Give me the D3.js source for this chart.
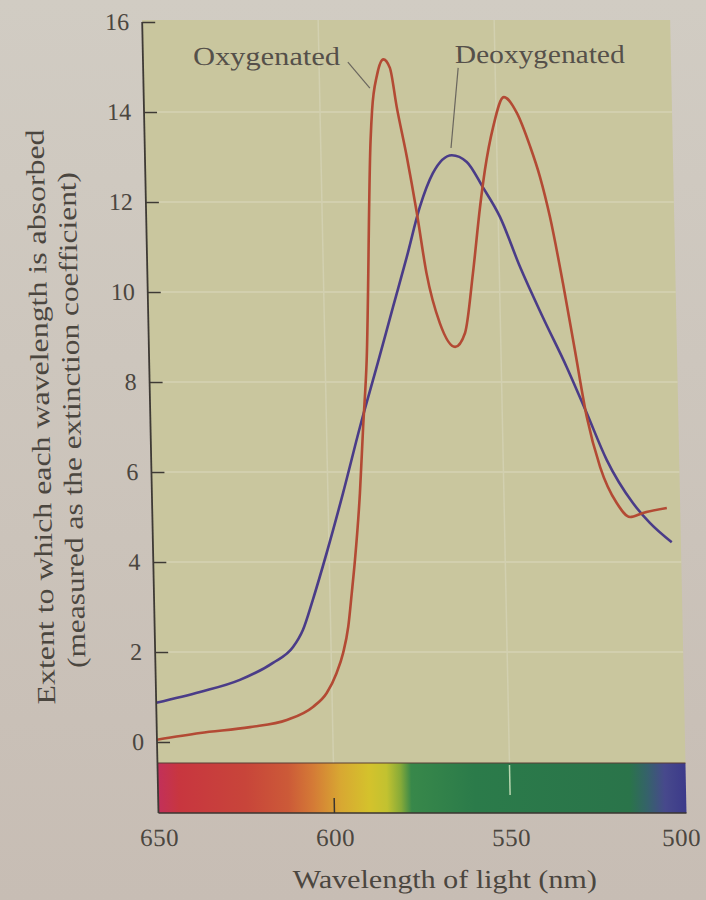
<!DOCTYPE html>
<html>
<head>
<meta charset="utf-8">
<script src="https://cdn.jsdelivr.net/npm/d3@7"></script>
<style>
  html, body { margin: 0; padding: 0; background: #cdc6bc; }
  svg { display: block; }
</style>
</head>
<body>
<div id="chart"></div>
<script>
// ===== DATA =====
const oxyNm  = [650, 637.7, 623.5, 613.0, 605.5, 601.5, 598.6, 596.6, 595.0, 593.8, 592.7, 590.9, 589.6, 588.2,
                585.8, 585.2, 583.6, 581.7, 579.9, 578.2, 575.6, 573.1, 570.7, 567.2, 563.0, 560.1, 557.5, 555.1,
                553.5, 550.9, 547.7, 544.1, 540.5, 537.9, 535.3, 532.0, 529.0, 526.0, 522.5, 518.0, 514.3, 510.6, 503.8];
const oxyVal = [0.05, 0.2, 0.33, 0.49, 0.78, 1.09, 1.53, 1.98, 2.56, 3.31, 4.04, 5.53, 7.0, 8.49,
                13.38, 14.04, 14.82, 15.17, 14.98, 14.12, 13.0, 11.76, 10.42, 9.31, 8.78, 9.09, 10.42, 11.89,
                12.71, 13.67, 14.33, 13.98, 13.23, 12.56, 11.67, 10.2, 8.71, 7.22, 6.11, 5.31, 5.0, 5.09, 5.2];

const deoxyNm  = [650, 637.5, 626.1, 616.6, 610.8, 607.9, 604.9, 600.7, 595.7, 590.5, 585.0, 580.4, 576.2, 572.2,
                  568.3, 562.8, 558.6, 554.2, 549.5, 544.1, 537.9, 531.4, 526.0, 520.6, 513.4, 508.7, 502.6];
const deoxyVal = [0.87, 1.11, 1.38, 1.76, 2.11, 2.49, 3.16, 4.2, 5.53, 7.0, 8.44, 9.67, 10.78, 11.89,
                  12.64, 13.04, 12.89, 12.33, 11.67, 10.56, 9.44, 8.33, 7.31, 6.27, 5.31, 4.87, 4.44];

const yTicks = [0, 2, 4, 6, 8, 10, 12, 14, 16];
const yGrid  = [2, 4, 6, 8, 10, 12, 14];
const xTicks = [650, 600, 550, 500];
const xGrid  = [600, 550];

// visible spectrum under the axis
const spectrumNm     = [650, 644, 625, 613, 606, 598, 590, 585, 581, 578, 560, 516, 511, 506, 500];
const spectrumColors = ["#c2305a", "#c8363f", "#c8453a", "#cc5a38", "#d47a36", "#d8a832", "#d4c22c", "#c2c230",
                        "#86aa38", "#38884a", "#2b7b4a", "#2a744a", "#35626a", "#47498c", "#3c3a8a"];

// curve labels: text anchor point and leader line (nm, value)
const labelText   = ["Oxygenated", "Deoxygenated"];
const labelPos    = [[594.0, 15.04], [561.4, 15.09]];
const labelAnchor = ["end", "start"];
const labelWidth  = [147, 170];
const leaderFrom  = [[591.8, 15.11], [560.5, 14.98]];
const leaderTo    = [[585.7, 14.53], [563.0, 13.2]];

// ===== SETUP =====
const W = 706, H = 900;
const skewK = 0.0206, pivotY = 790;   // the photo is slightly slanted
const barTop = 763, barBottom = 813;
const serif = "'Liberation Serif', 'Times New Roman', serif";
const ink = "#4b463f";

const svg = d3.select("#chart").append("svg")
  .attr("width", W)
  .attr("height", H);

const defs = svg.append("defs");
const paper = defs.append("linearGradient").attr("id", "paper")
  .attr("x1", 0).attr("y1", 0).attr("x2", 0).attr("y2", 1);
paper.append("stop").attr("offset", "0%").attr("stop-color", "#d1ccc3");
paper.append("stop").attr("offset", "100%").attr("stop-color", "#c7bdb4");

svg.append("rect").attr("width", W).attr("height", H).attr("fill", "url(#paper)");

const x = d3.scaleLinear().domain([650, 500]).range([158, 686]);
const y = d3.scaleLinear().domain([0, 16]).range([742, 22]);

const g = svg.append("g")
  .attr("transform", `translate(${-skewK * pivotY},0) skewX(${Math.atan(skewK) * 180 / Math.PI})`);

// panel
g.append("rect")
  .attr("x", x(650))
  .attr("y", 20)
  .attr("width", x(500) - x(650))
  .attr("height", barTop - 20)
  .attr("fill", "#c9c69e");

// faint grid
g.selectAll(".hgrid")
  .data(yGrid)
  .enter()
  .append("line")
  .attr("x1", x(650)).attr("x2", x(500))
  .attr("y1", d => y(d)).attr("y2", d => y(d))
  .attr("stroke", "#d4d2b3")
  .attr("stroke-width", 1.5);

g.selectAll(".vgrid")
  .data(xGrid)
  .enter()
  .append("line")
  .attr("x1", d => x(d)).attr("x2", d => x(d))
  .attr("y1", 20).attr("y2", barTop)
  .attr("stroke", "#d2d0b0")
  .attr("stroke-width", 1.5);

// spectrum bar
const spec = defs.append("linearGradient").attr("id", "spectrum")
  .attr("gradientUnits", "userSpaceOnUse")
  .attr("x1", x(650)).attr("x2", x(500))
  .attr("y1", 0).attr("y2", 0);
spectrumNm.forEach((nm, i) => {
  spec.append("stop")
    .attr("offset", (650 - nm) / 150)
    .attr("stop-color", spectrumColors[i]);
});

g.append("rect")
  .attr("x", x(650))
  .attr("y", barTop)
  .attr("width", x(500) - x(650))
  .attr("height", barBottom - barTop)
  .attr("fill", "url(#spectrum)");

g.append("line")
  .attr("x1", x(650)).attr("x2", x(500))
  .attr("y1", barTop).attr("y2", barTop)
  .attr("stroke", "#5a3d35").attr("stroke-width", 1);
g.append("line")
  .attr("x1", x(650)).attr("x2", x(500))
  .attr("y1", barBottom).attr("y2", barBottom)
  .attr("stroke", "#3a3530").attr("stroke-width", 1.5);

// ticks inside the spectrum bar
g.append("line")
  .attr("x1", x(600)).attr("x2", x(600))
  .attr("y1", barBottom).attr("y2", barBottom - 15)
  .attr("stroke", "#3a3530").attr("stroke-width", 1.5);
g.append("line")
  .attr("x1", x(550)).attr("x2", x(550))
  .attr("y1", barTop + 2).attr("y2", barTop + 32)
  .attr("stroke", "#b9d6b0").attr("stroke-width", 1.5);

// curves
const line = d3.line()
  .x(d => x(d[0]))
  .y(d => y(d[1]))
  .curve(d3.curveMonotoneX);

g.append("path")
  .datum(deoxyNm.map((nm, i) => [nm, deoxyVal[i]]))
  .attr("d", line)
  .attr("fill", "none")
  .attr("stroke", "#4a3c88")
  .attr("stroke-width", 2.6);

g.append("path")
  .datum(oxyNm.map((nm, i) => [nm, oxyVal[i]]))
  .attr("d", line)
  .attr("fill", "none")
  .attr("stroke", "#b34a34")
  .attr("stroke-width", 2.6);

// y axis
const yAxis = g.append("g")
  .attr("transform", `translate(${x(650)},0)`)
  .call(d3.axisLeft(y).tickValues(yTicks).tickSize(-13).tickPadding(13));
yAxis.select(".domain").remove();
yAxis.selectAll(".tick line").attr("stroke", "#3e3a35").attr("stroke-width", 1.6);
yAxis.selectAll(".tick text")
  .attr("fill", ink)
  .style("font-family", serif)
  .style("font-size", "24px");

g.append("line")
  .attr("x1", x(650)).attr("x2", x(650))
  .attr("y1", y(16)).attr("y2", barBottom)
  .attr("stroke", "#3e3a35")
  .attr("stroke-width", 1.8);

// x axis labels
const xAxis = g.append("g")
  .attr("transform", `translate(0,${barBottom})`)
  .call(d3.axisBottom(x).tickValues(xTicks).tickSize(0).tickPadding(15));
xAxis.select(".domain").remove();
xAxis.selectAll(".tick text")
  .attr("fill", ink)
  .attr("dx", d => d === 500 ? -6 : 0)
  .style("font-family", serif)
  .style("font-size", "25px")
  .style("letter-spacing", "0.5px");

// axis titles
g.append("text")
  .attr("x", 443)
  .attr("y", 888)
  .attr("text-anchor", "middle")
  .attr("textLength", 304)
  .attr("lengthAdjust", "spacingAndGlyphs")
  .attr("fill", ink)
  .style("font-family", serif)
  .style("font-size", "26px")
  .text("Wavelength of light (nm)");

g.append("text")
  .attr("transform", "translate(57,417) rotate(-90)")
  .attr("text-anchor", "middle")
  .attr("textLength", 575)
  .attr("lengthAdjust", "spacingAndGlyphs")
  .attr("fill", ink)
  .style("font-family", serif)
  .style("font-size", "26px")
  .text("Extent to which each wavelength is absorbed");

g.append("text")
  .attr("transform", "translate(88,420) rotate(-90)")
  .attr("text-anchor", "middle")
  .attr("textLength", 496)
  .attr("lengthAdjust", "spacingAndGlyphs")
  .attr("fill", ink)
  .style("font-family", serif)
  .style("font-size", "26px")
  .text("(measured as the extinction coefficient)");

// curve labels with leader lines
labelText.forEach((t, i) => {
  g.append("text")
    .attr("x", x(labelPos[i][0]))
    .attr("y", y(labelPos[i][1]))
    .attr("text-anchor", labelAnchor[i])
    .attr("textLength", labelWidth[i])
    .attr("lengthAdjust", "spacingAndGlyphs")
    .attr("fill", "#55504a")
    .style("font-family", serif)
    .style("font-size", "26px")
    .text(t);

  g.append("line")
    .attr("x1", x(leaderFrom[i][0])).attr("y1", y(leaderFrom[i][1]))
    .attr("x2", x(leaderTo[i][0])).attr("y2", y(leaderTo[i][1]))
    .attr("stroke", "#6a665e")
    .attr("stroke-width", 1.2);
});
</script>
</body>
</html>
